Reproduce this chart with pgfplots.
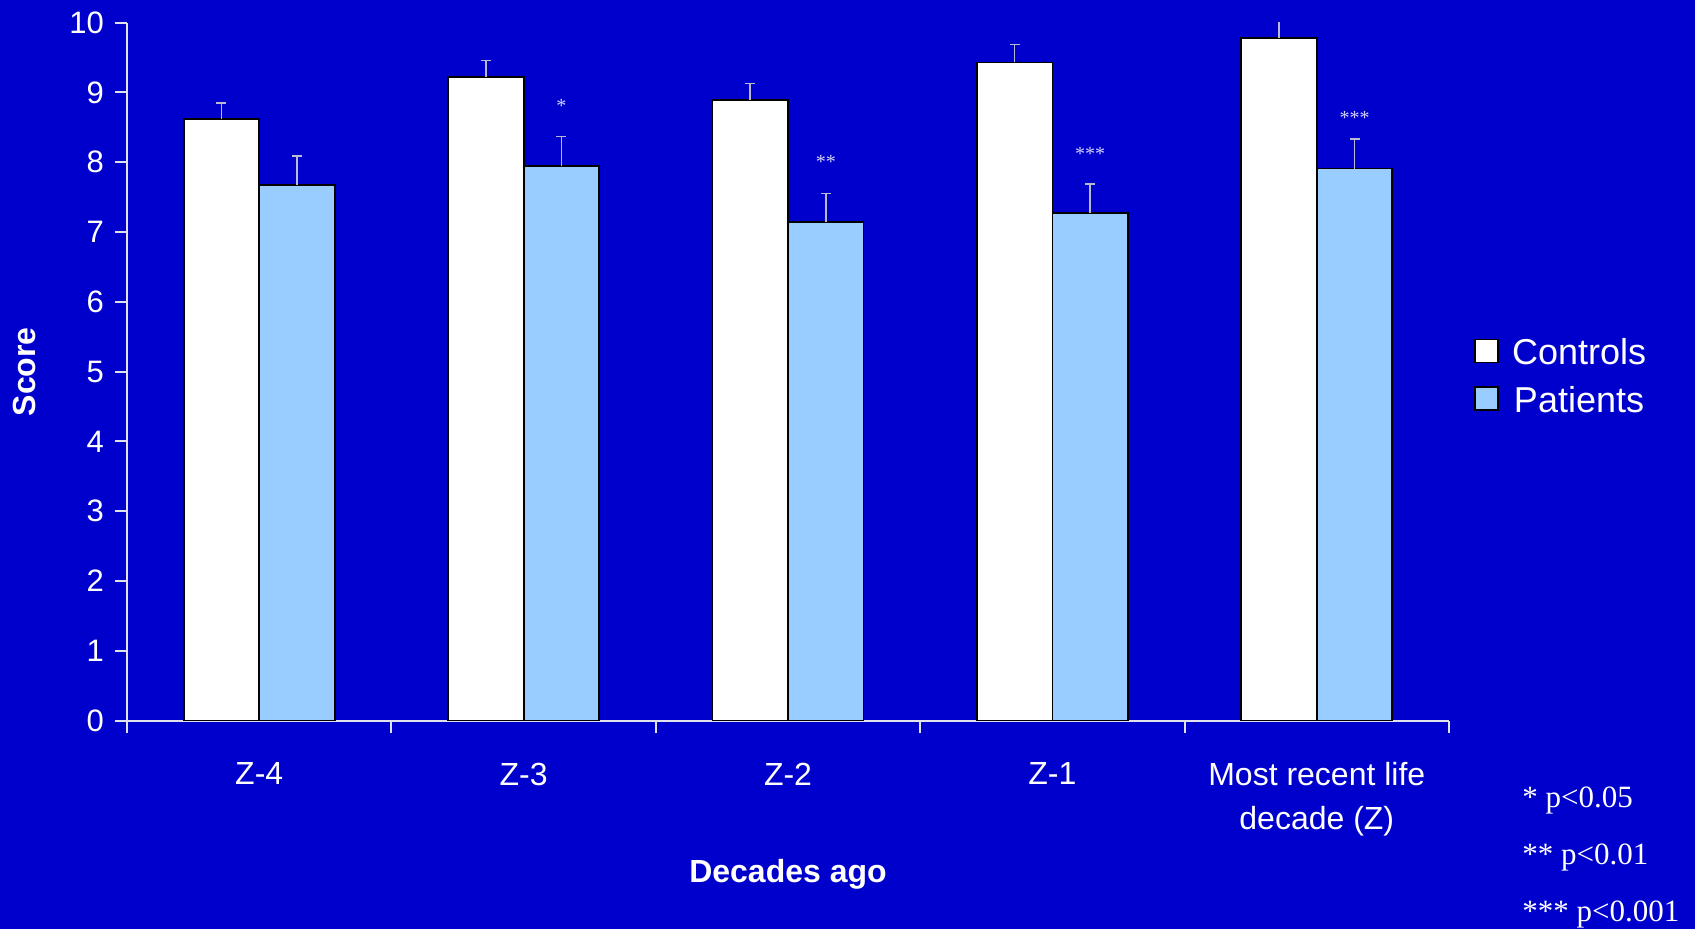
\documentclass[border=0pt]{standalone}
\usepackage{fontspec}
\setmainfont{Liberation Sans}
\newfontfamily\timesfont{Liberation Serif}
\usepackage{pgfplots}
\pgfplotsset{compat=1.18}
\definecolor{bg}{RGB}{0,0,204}
\definecolor{pat}{RGB}{153,204,255}
\definecolor{axcol}{RGB}{225,225,235}
\definecolor{errcol}{RGB}{185,185,210}
\definecolor{starcol}{RGB}{210,210,255}

\pgfplotstableread{
x  y     err
0  8.615 0.235
1  9.22  0.24
2  8.89  0.24
3  9.43  0.26
4  9.78  0.24
}\controls
\pgfplotstableread{
x  y     err
0  7.68  0.41
1  7.95  0.42
2  7.14  0.41
3  7.27  0.42
4  7.91  0.42
}\patients

\begin{document}
\begin{tikzpicture}
\fill[bg] (-63.5pt,-104.15pt) rectangle (784pt,360.35pt);
\begin{axis}[
  at={(0,0)}, anchor=south west,
  scale only axis, width=661pt, height=349pt,
  ybar=0pt, bar width=37.75pt,
  xmin=-0.5, xmax=4.5, ymin=0, ymax=10,
  axis x line*=bottom, axis y line*=left,
  axis line style={-, draw=axcol, line width=1pt},
  xtick={0,1,2,3,4},
  xticklabels={Z-4, Z-3, Z-2, Z-1, {Most recent life\\decade (Z)}},
  xticklabel style={align=center, font=\fontsize{16}{22}\selectfont, text=white, yshift=-11.5pt},
  major x tick style={draw=none},
  minor xtick={-0.5,0.5,1.5,2.5,3.5,4.5},
  minor tick length=6pt,
  ytick={0,1,2,3,4,5,6,7,8,9,10},
  major tick length=6pt,
  tick align=outside,
  major y tick style={draw=axcol, line width=1pt},
  minor x tick style={draw=axcol, line width=1pt},
  yticklabel style={font=\fontsize{15.5}{18}\selectfont, text=white, xshift=-2pt},
  /pgf/number format/assume math mode=true,
  xlabel={Decades ago}, ylabel={Score},
  xlabel style={at={(axis description cs:0.5,-0.2206)}, anchor=center, font=\bfseries\fontsize{16}{19}\selectfont, text=white},
  ylabel style={at={(axis description cs:-0.0772,0.5)}, anchor=center, font=\bfseries\fontsize{16}{19}\selectfont, text=white},
  legend style={at={(axis description cs:1,0.495)}, anchor=west, xshift=12.5pt,
    draw=none, fill=none, font=\fontsize{18}{20}\selectfont, text=white,
    inner sep=0pt, row sep=10.9pt,
    nodes={inner sep=0pt, text height=13pt, text depth=0pt},
    /tikz/every odd column/.append style={column sep=6.5pt}},
  error bars/y dir=plus, error bars/y explicit,
  error bars/error bar style={color=errcol, line width=0.8pt},
  error bars/error mark options={rotate=90, mark size=2.5pt, line width=0.8pt, color=errcol},
]
\addplot[fill=white, draw=black, line width=0.9pt,
  legend image code/.code={\draw[fill=white, draw=black, line width=0.8pt] (0pt,-5.6pt) rectangle (11.5pt,5.9pt);}]
  table[x=x, y=y, y error=err] {\controls};
\addlegendentry{Controls}
\addplot[fill=pat, draw=black, line width=0.9pt,
  legend image code/.code={\draw[fill=pat, draw=black, line width=0.8pt] (0pt,-5.6pt) rectangle (11.5pt,5.9pt);}]
  table[x=x, y=y, y error=err] {\patients};
\addlegendentry{Patients}
\node[text=starcol, font=\timesfont\fontsize{10}{12}\selectfont, inner sep=0pt] at (axis cs:1.143,8.80) {*};
\node[text=starcol, font=\timesfont\fontsize{10}{12}\selectfont, inner sep=0pt] at (axis cs:2.143,8.01) {**};
\node[text=starcol, font=\timesfont\fontsize{10}{12}\selectfont, inner sep=0pt] at (axis cs:3.143,8.12) {***};
\node[text=starcol, font=\timesfont\fontsize{10}{12}\selectfont, inner sep=0pt] at (axis cs:4.143,8.64) {***};
\end{axis}
\begin{scope}[every node/.style={text=white, font=\timesfont\fontsize{15.5}{18}\selectfont, anchor=base west, inner sep=0pt}]
\node at (697.5pt,-43.65pt) {* p<0.05};
\node at (697.5pt,-72.15pt) {** p<0.01};
\node at (697.5pt,-100.65pt) {*** p<0.001};
\end{scope}
\pgfresetboundingbox
\useasboundingbox (-63.5pt,-104.15pt) rectangle (784pt,360.35pt);
\end{tikzpicture}
\end{document}
